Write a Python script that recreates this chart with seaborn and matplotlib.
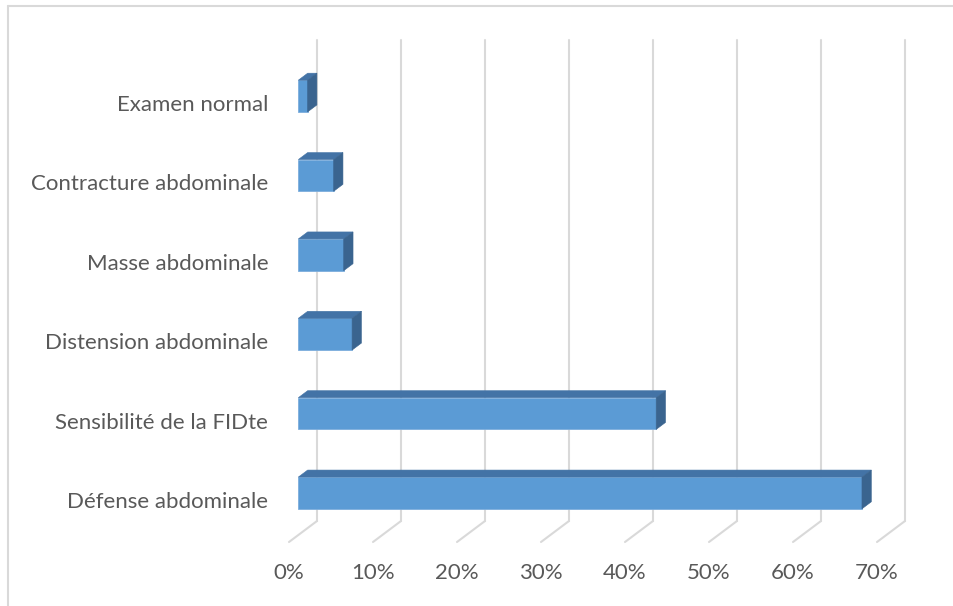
import matplotlib
matplotlib.use("Agg")
import matplotlib.pyplot as plt
from matplotlib.patches import Polygon
from matplotlib.lines import Line2D
import seaborn as sns

# ================= DONNÉES =================
categories = ["Examen normal", "Contracture abdominale", "Masse abdominale",
              "Distension abdominale", "Sensibilité de la FIDte", "Défense abdominale"]
valeurs = [1.1, 4.2, 5.4, 6.4, 42.6, 67.1]
ticks_x = [0, 10, 20, 30, 40, 50, 60, 70]
ticks_labels = ["0%", "10%", "20%", "30%", "40%", "50%", "60%", "70%"]

# ================= STYLE =================
sns.set_style("white")
plt.rcParams['font.family'] = ['Lato', 'DejaVu Sans']
txt_color = '#595959'
grid_color = '#D9D9D9'
c_face = '#5B9BD5'
c_top = '#4373A6'
c_side = '#3A648F'

W, H = 954, 606
fig = plt.figure(figsize=(W / 100, H / 100), dpi=100)
ax = fig.add_axes([289 / W, (H - 542) / H, 588 / W, 481 / H])

sns.barplot(x=valeurs, y=categories, orient='h', width=0.4, color=c_face,
            saturation=1, ax=ax, zorder=3)

ymax, ymin = 5.53, -0.53
ax.set_xlim(0, 70)
ax.set_ylim(ymax, ymin)

# profondeur de la "3D" (en unités de données)
DX = 28 / 8.4
DY = -21 / (481 / (ymax - ymin))

# grille : sol + mur du fond
for t in ticks_x:
    ax.plot([t, t + DX], [ymax, ymax + DY], color=grid_color, lw=1.5,
            clip_on=False, zorder=1)
    ax.plot([t + DX, t + DX], [ymax + DY, ymin + DY], color=grid_color, lw=1.5,
            clip_on=False, zorder=1)

# barres : décalage + faces du dessus et de côté
bx, by = DX / 3, DY / 3
for p in ax.patches:
    x0 = p.get_x() + bx
    y0 = p.get_y() + by
    w, h = p.get_width(), p.get_height()
    p.set_x(x0)
    p.set_y(y0)
    p.set_edgecolor('#7DAEDD')
    p.set_linewidth(0.6)
    top = Polygon([(x0, y0), (x0 + w, y0), (x0 + w + bx, y0 + by), (x0 + bx, y0 + by)],
                  closed=True, facecolor=c_top, edgecolor=c_top, lw=0.4,
                  zorder=3, clip_on=False)
    side = Polygon([(x0 + w, y0), (x0 + w, y0 + h), (x0 + w + bx, y0 + h + by),
                    (x0 + w + bx, y0 + by)],
                   closed=True, facecolor=c_side, edgecolor=c_side, lw=0.4,
                   zorder=3, clip_on=False)
    ax.add_patch(top)
    ax.add_patch(side)

ax.set_xticks(ticks_x)
ax.set_xticklabels(ticks_labels)
ax.tick_params(axis='x', length=0, pad=15, labelsize=16, labelcolor=txt_color)
ax.tick_params(axis='y', length=0, pad=15, labelsize=16, labelcolor=txt_color)
ax.set_xlabel('')
ax.set_ylabel('')
ax.grid(False)
for s in ax.spines.values():
    s.set_visible(False)
ax.patch.set_alpha(0)

# cadre du graphique
fig.add_artist(Line2D([8 / W, 1], [1 - 6 / H, 1 - 6 / H], color=grid_color, lw=1.5,
                      transform=fig.transFigure))
fig.add_artist(Line2D([8 / W, 8 / W], [0, 1 - 6 / H], color=grid_color, lw=1.5,
                      transform=fig.transFigure))

fig.savefig('out.png', dpi=100)
